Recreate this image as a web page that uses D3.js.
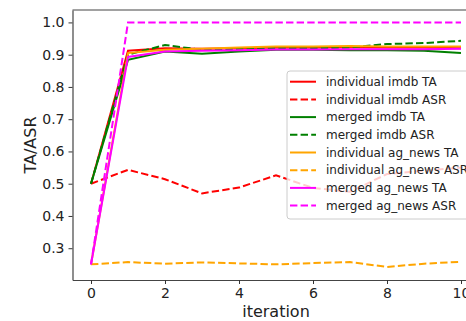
<!DOCTYPE html>
<html>
<head>
<meta charset="utf-8">
<script src="https://cdn.jsdelivr.net/npm/d3@7"></script>
<style>
  body { margin: 0; background: #fff; }
  text { font-family: "DejaVu Sans", sans-serif; fill: #222; }
</style>
</head>
<body>
<div id="chart"></div>
<script>
// iterations on the x axis
const iterations = [0, 1, 2, 3, 4, 5, 6, 7, 8, 9, 10];

// series values
const indivImdbTA   = [0.50, 0.912, 0.920, 0.918, 0.920, 0.922, 0.922, 0.923, 0.922, 0.922, 0.920];
const indivImdbASR  = [0.50, 0.543, 0.514, 0.470, 0.488, 0.526, 0.487, 0.475, 0.530, 0.540, 0.550];
const mergedImdbTA  = [0.50, 0.884, 0.910, 0.903, 0.910, 0.915, 0.915, 0.914, 0.914, 0.912, 0.905];
const mergedImdbASR = [0.50, 0.900, 0.930, 0.915, 0.918, 0.920, 0.920, 0.922, 0.933, 0.936, 0.943];
const indivAgTA     = [0.25, 0.905, 0.915, 0.918, 0.922, 0.925, 0.925, 0.927, 0.925, 0.925, 0.925];
const indivAgASR    = [0.25, 0.257, 0.252, 0.256, 0.253, 0.250, 0.254, 0.257, 0.242, 0.252, 0.258];
const mergedAgTA    = [0.25, 0.893, 0.910, 0.912, 0.914, 0.916, 0.916, 0.917, 0.917, 0.917, 0.918];
const mergedAgASR   = [0.25, 1.0, 1.0, 1.0, 1.0, 1.0, 1.0, 1.0, 1.0, 1.0, 1.0];

const seriesNames = ["individual imdb TA", "individual imdb ASR", "merged imdb TA", "merged imdb ASR",
                     "individual ag_news TA", "individual ag_news ASR", "merged ag_news TA", "merged ag_news ASR"];
const seriesValues = [indivImdbTA, indivImdbASR, mergedImdbTA, mergedImdbASR,
                      indivAgTA, indivAgASR, mergedAgTA, mergedAgASR];
const seriesColors = ["red", "red", "green", "green", "orange", "orange", "magenta", "magenta"];
const seriesDashed = [false, true, false, true, false, true, false, true];

const yTicks = [0.3, 0.4, 0.5, 0.6, 0.7, 0.8, 0.9, 1.0];
const xTicks = [0, 2, 4, 6, 8, 10];

const svgWidth = 466, svgHeight = 321;
const margin = { top: 10, left: 72.5 };
const width = 407, height = 270;

const svg = d3.select("#chart").append("svg")
    .attr("width", svgWidth)
    .attr("height", svgHeight);

const chartGroup = svg.append("g")
    .attr("transform", `translate(${margin.left}, ${margin.top})`);

const x = d3.scaleLinear().domain([-0.5, 10.5]).range([0, width]);
const y = d3.scaleLinear().domain([0.2015, 1.0385]).range([height, 0]);

// axes
const xAxis = chartGroup.append("g")
    .attr("transform", `translate(0, ${height})`)
    .call(d3.axisBottom(x).tickValues(xTicks).tickSize(4).tickSizeOuter(0).tickPadding(4).tickFormat(d3.format("d")));
const yAxis = chartGroup.append("g")
    .call(d3.axisLeft(y).tickValues(yTicks).tickSize(4).tickSizeOuter(0).tickPadding(4).tickFormat(d3.format(".1f")));

[xAxis, yAxis].forEach(ax => {
    ax.selectAll("text").style("font-size", "14px").style("font-family", "DejaVu Sans").attr("fill", "#222");
    ax.selectAll("line").attr("stroke", "#333");
    ax.select(".domain").attr("stroke", "#444").attr("stroke-width", 1.2);
});

// top spine
chartGroup.append("line")
    .attr("x1", 0).attr("x2", width).attr("y1", 0).attr("y2", 0)
    .attr("stroke", "#444").attr("stroke-width", 1.2);

// lines
const line = d3.line()
    .x((d, i) => x(iterations[i]))
    .y(d => y(d));

seriesValues.forEach((vals, k) => {
    chartGroup.append("path")
        .datum(vals)
        .attr("d", line)
        .attr("fill", "none")
        .attr("stroke", seriesColors[k])
        .attr("stroke-width", 2)
        .attr("stroke-dasharray", seriesDashed[k] ? "7.4,3.2" : null);
});

// axis labels
svg.append("text")
    .attr("x", margin.left + width / 2)
    .attr("y", 317)
    .attr("text-anchor", "middle")
    .style("font-size", "16px")
    .text("iteration");

svg.append("text")
    .attr("transform", `translate(36, ${margin.top + height / 2}) rotate(-90)`)
    .attr("text-anchor", "middle")
    .style("font-size", "16px")
    .text("TA/ASR");

// legend
const legend = svg.append("g").attr("transform", "translate(287, 71)");
legend.append("rect")
    .attr("width", 200).attr("height", 148)
    .attr("rx", 3)
    .attr("fill", "white").attr("fill-opacity", 0.8)
    .attr("stroke", "#ccc");

seriesNames.forEach((name, k) => {
    const row = legend.append("g").attr("transform", `translate(0, ${10.7 + k * 17.7})`);
    row.append("line")
        .attr("x1", 3).attr("x2", 29)
        .attr("stroke", seriesColors[k])
        .attr("stroke-width", 2)
        .attr("stroke-dasharray", seriesDashed[k] ? "7.4,3.2" : null);
    row.append("text")
        .attr("x", 39)
        .attr("dy", "0.35em")
        .style("font-size", "12px")
        .text(name);
});
</script>
</body>
</html>
